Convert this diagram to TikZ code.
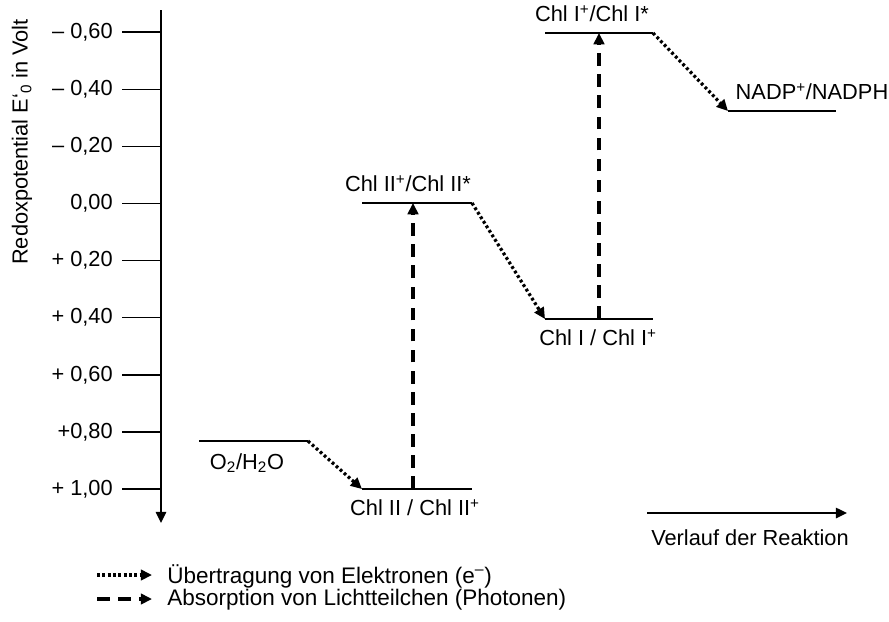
\documentclass[tikz,border=0pt]{standalone}
\usepackage{fontspec}
\setmainfont{Liberation Sans}
\usetikzlibrary{arrows.meta}
\def\tip{Triangle[length=8pt,width=7.5pt]}

\begin{document}
\begin{tikzpicture}[x=0.025cm,y=-0.025cm,
		level/.style={line width=1.2pt},
		elec/.style={line width=2.3pt,dash pattern=on 2pt off 1.8pt,-{\tip}},
		photon/.style={line width=2.4pt,dash pattern=on 9pt off 6pt,-{\tip}},
		lbl/.style={font=\fontsize{15.5}{18}\selectfont,inner sep=0pt}]
		\useasboundingbox (0,0) rectangle (889,621);
		%%%%% AXIS %%%%%
		\coordinate (ytop) at (161,10);
		\coordinate (ybot) at (161,523);
		\draw[line width=1.1pt,-{\tip}] (ytop) -- (ybot);
		\node[lbl,rotate=90] (ylab) at (22,142) {Redoxpotential E‘\textsubscript{0} in Volt};
		\foreach \v/\t [count=\i] in {-0.6/{\textendash\ 0,60},-0.4/{\textendash\ 0,40},-0.2/{\textendash\ 0,20},0/{0,00},0.2/{+ 0,20},0.4/{+ 0,40},0.6/{+ 0,60},0.8/{+0,80},1/{+ 1,00}}{
			\draw[line width=1.1pt] (122,{203.5+\v*285.5}) -- (161,{203.5+\v*285.5});
			\node[lbl,anchor=east] (tick\i) at (113,{203.5+\v*285.5}) {\t};
		}
		
		%%%%% LEVELS %%%%%
		\coordinate (o2a) at (199,441);   \coordinate (o2b) at (308,441);
		\coordinate (c2a) at (362,489);   \coordinate (c2b) at (472,489);
		\coordinate (c2sa) at (362,203);  \coordinate (c2sb) at (472,203);
		\coordinate (c1a) at (545,319);   \coordinate (c1b) at (653,319);
		\coordinate (c1sa) at (545,33);   \coordinate (c1sb) at (653,33);
		\coordinate (nada) at (728,111);  \coordinate (nadb) at (836,111);
		\coordinate (c2m) at (413,489);   \coordinate (c2sm) at (413,203);
		\coordinate (c1m) at (599,319);   \coordinate (c1sm) at (599,33);
		
		\draw[level] (o2a) -- (o2b);
		\draw[level] (c2a) -- (c2b);
		\draw[level] (c2sa) -- (c2sb);
		\draw[level] (c1a) -- (c1b);
		\draw[level] (c1sa) -- (c1sb);
		\draw[level] (nada) -- (nadb);
		
		\node[lbl] (o2) at (247,463) {O\textsubscript{2}/H\textsubscript{2}O};
		\node[lbl] (c2) at (415,508) {Chl II / Chl II\textsuperscript{+}};
		\node[lbl] (c2s) at (408,184) {Chl II\textsuperscript{+}/Chl II*};
		\node[lbl] (c1) at (598,338) {Chl I / Chl I\textsuperscript{+}};
		\node[lbl] (c1s) at (592,14) {Chl I\textsuperscript{+}/Chl I*};
		\node[lbl] (nadp) at (812,92) {NADP\textsuperscript{+}/NADPH};
		
		%%%%% ARROWS %%%%%
		\draw[elec] (o2b) -- (c2a);
		\draw[elec] (c2sb) -- (c1a);
		\draw[elec] (c1sb) -- (nada);
		\draw[photon] (c2m) -- (c2sm);
		\draw[photon] (c1m) -- (c1sm);
		
		\coordinate (ra) at (647,513);
		\coordinate (rb) at (847,513);
		\draw[line width=1.1pt,-{\tip}] (ra) -- (rb);
		\node[lbl] (verl) at (750,538) {Verlauf der Reaktion};
		
		%%%%% LEGEND %%%%%
		\coordinate (leg1a) at (97,575);  \coordinate (leg1b) at (152,575);
		\coordinate (leg2a) at (97,599);  \coordinate (leg2b) at (152,599);
		\draw[elec] (leg1a) -- (leg1b);
		\draw[photon] (leg2a) -- (leg2b);
		\node[lbl,anchor=west,font=\fontsize{16}{18}\selectfont] (leg1) at (167,576) {Übertragung von Elektronen (e\textsuperscript{–})};
		\node[lbl,anchor=west,font=\fontsize{16}{18}\selectfont] (leg2) at (167,600) {Absorption von Lichtteilchen (Photonen)};
	\end{tikzpicture}
\end{document}
